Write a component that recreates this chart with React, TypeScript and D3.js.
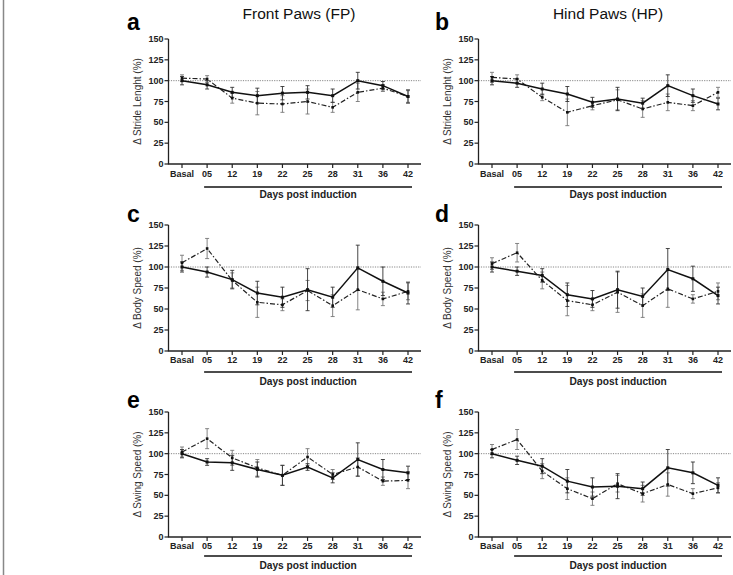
import React from 'react';
import * as d3 from 'd3';

// ---------- data ----------
const categories = ["Basal", "05", "12", "19", "22", "25", "28", "31", "36", "42"];
const yTicks = [0, 25, 50, 75, 100, 125, 150];
const columnTitles = ["Front Paws (FP)", "Hind Paws (HP)"];
const xAxisTitle = "Days post induction";

// a: Front paws, stride length
const aSolid = [100, 95, 86, 82, 85, 86, 82, 100, 94, 81];
const aSolidErr = [5, 5, 6, 9, 8, 8, 8, 10, 5, 8];
const aDashed = [103, 102, 79, 73, 72, 75, 68, 86, 91, 81];
const aDashedErr = [4, 4, 6, 14, 10, 15, 6, 11, 4, 7];

// b: Hind paws, stride length
const bSolid = [100, 97, 90, 84, 74, 78, 73, 94, 82, 72];
const bSolidErr = [5, 5, 7, 9, 6, 14, 6, 13, 8, 7];
const bDashed = [104, 102, 80, 62, 70, 77, 66, 74, 70, 86];
const bDashedErr = [6, 5, 4, 16, 5, 12, 10, 10, 6, 6];

// c: Front paws, body speed
const cSolid = [100, 94, 85, 69, 64, 73, 64, 99, 83, 69];
const cSolidErr = [6, 6, 11, 14, 12, 25, 12, 27, 17, 13];
const cDashed = [105, 122, 84, 58, 55, 72, 54, 73, 62, 71];
const cDashedErr = [9, 12, 9, 18, 7, 12, 13, 24, 8, 10];

// d: Hind paws, body speed
const dSolid = [100, 95, 90, 67, 62, 73, 65, 97, 86, 66];
const dSolidErr = [6, 5, 8, 14, 10, 22, 10, 25, 15, 10];
const dDashed = [104, 117, 84, 60, 55, 70, 54, 74, 62, 71];
const dDashedErr = [7, 11, 10, 18, 7, 24, 14, 22, 5, 10];

// e: Front paws, swing speed
const eSolid = [100, 90, 89, 81, 74, 84, 71, 93, 81, 77];
const eSolidErr = [5, 4, 9, 9, 12, 4, 6, 20, 12, 8];
const eDashed = [102, 118, 95, 83, 74, 96, 75, 84, 67, 68];
const eDashedErr = [6, 12, 9, 10, 12, 10, 6, 11, 5, 10];

// f: Hind paws, swing speed
const fSolid = [100, 92, 85, 67, 60, 61, 58, 83, 77, 62];
const fSolidErr = [5, 5, 9, 14, 11, 15, 8, 22, 13, 9];
const fDashed = [105, 117, 79, 58, 46, 64, 52, 63, 52, 59];
const fDashedErr = [6, 12, 9, 13, 8, 10, 10, 14, 6, 6];

const panelLetters = ["a", "b", "c", "d", "e", "f"];
const yLabels = ["Δ Stride Lenght (%)", "Δ Body Speed (%)", "Δ Swing Speed (%)"];

const panels = [
  { letter: panelLetters[0], col: 0, row: 0, solid: aSolid, solidErr: aSolidErr, dashed: aDashed, dashedErr: aDashedErr },
  { letter: panelLetters[1], col: 1, row: 0, solid: bSolid, solidErr: bSolidErr, dashed: bDashed, dashedErr: bDashedErr },
  { letter: panelLetters[2], col: 0, row: 1, solid: cSolid, solidErr: cSolidErr, dashed: cDashed, dashedErr: cDashedErr },
  { letter: panelLetters[3], col: 1, row: 1, solid: dSolid, solidErr: dSolidErr, dashed: dDashed, dashedErr: dDashedErr },
  { letter: panelLetters[4], col: 0, row: 2, solid: eSolid, solidErr: eSolidErr, dashed: eDashed, dashedErr: eDashedErr },
  { letter: panelLetters[5], col: 1, row: 2, solid: fSolid, solidErr: fSolidErr, dashed: fDashed, dashedErr: fDashedErr },
];

// ---------- layout ----------
const W = 733;
const H = 575;
const FONT = "'Liberation Sans', Arial, Helvetica, sans-serif";

const cols = [
  { axisX: 168.5, x0: 182, x1: 408, xEnd: 421, titleX: 141, letterX: 127, headX: 299 },
  { axisX: 478.5, x0: 492, x1: 718, xEnd: 731, titleX: 451, letterX: 435, headX: 608 },
];
const rows = [
  { top: 39, bottom: 164, letterY: 30, tickY: 177, lineY: 187, labelY: 198 },
  { top: 225, bottom: 351, letterY: 222, tickY: 363, lineY: 372, labelY: 385 },
  { top: 412, bottom: 537, letterY: 408, tickY: 549, lineY: 556, labelY: 569 },
];

function Panel({ p }: { p: any }) {
  const c = cols[p.col];
  const r = rows[p.row];
  const x = d3.scalePoint<string>().domain(categories).range([c.x0, c.x1]);
  const y = d3.scaleLinear().domain([0, 150]).range([r.bottom, r.top]);
  const line = d3
    .line<number>()
    .x((_, i) => x(categories[i]) as number)
    .y((v) => y(v));

  const errBars = (vals: number[], errs: number[], color: string, key: string) =>
    vals.map((v, i) => {
      const cx = x(categories[i]) as number;
      const yt = y(v + errs[i]);
      const yb = y(v - errs[i]);
      return (
        <g key={key + i} stroke={color} strokeWidth={0.9}>
          <line x1={cx} x2={cx} y1={yt} y2={yb} />
          <line x1={cx - 2} x2={cx + 2} y1={yt} y2={yt} />
          <line x1={cx - 2} x2={cx + 2} y1={yb} y2={yb} />
        </g>
      );
    });

  const markers = (vals: number[], key: string, s: number) =>
    vals.map((v, i) => (
      <rect
        key={key + i}
        x={(x(categories[i]) as number) - s / 2}
        y={y(v) - s / 2}
        width={s}
        height={s}
        fill="#111"
      />
    ));

  const midY = (r.top + r.bottom) / 2;
  const xs = categories.map((cat) => x(cat) as number);

  return (
    <g>
      {/* panel letter */}
      <text x={c.letterX} y={r.letterY} fontFamily={FONT} fontWeight="bold" fontSize={23} fill="#000">
        {p.letter}
      </text>
      {/* y title */}
      <text
        transform={`translate(${c.titleX},${midY}) rotate(-90)`}
        textAnchor="middle"
        fontFamily={FONT}
        fontSize={10}
        fill="#333"
      >
        {yLabels[p.row]}
      </text>
      {/* reference line at 100 */}
      <line x1={c.axisX} x2={c.xEnd} y1={y(100)} y2={y(100)} stroke="#888" strokeWidth={1} strokeDasharray="1.2,1.2" />
      {/* error bars */}
      {errBars(p.dashed, p.dashedErr, "#777", "de")}
      {errBars(p.solid, p.solidErr, "#333", "se")}
      {/* lines */}
      <path d={line(p.dashed) || ""} fill="none" stroke="#222" strokeWidth={1.2} strokeDasharray="5,2,1.5,2" />
      <path d={line(p.solid) || ""} fill="none" stroke="#111" strokeWidth={1.5} />
      {markers(p.dashed, "dm", 2.6)}
      {markers(p.solid, "sm", 3)}
      {/* y axis */}
      <line x1={c.axisX} x2={c.axisX} y1={r.top} y2={r.bottom} stroke="#222" strokeWidth={1.3} />
      {yTicks.map((t) => (
        <g key={"yt" + t}>
          <line x1={c.axisX - 4} x2={c.axisX} y1={y(t)} y2={y(t)} stroke="#222" strokeWidth={1.2} />
          <text
            x={c.axisX - 5}
            y={y(t) + 3}
            textAnchor="end"
            fontFamily={FONT}
            fontWeight="bold"
            fontSize={9}
            fill="#222"
          >
            {t}
          </text>
        </g>
      ))}
      {/* x axis */}
      <line x1={c.axisX - 0.6} x2={c.xEnd} y1={r.bottom} y2={r.bottom} stroke="#222" strokeWidth={1.3} />
      {categories.map((cat) => (
        <g key={"xt" + cat}>
          <line x1={x(cat)} x2={x(cat)} y1={r.bottom} y2={r.bottom + 4} stroke="#222" strokeWidth={1.2} />
          <text
            x={x(cat)}
            y={r.tickY}
            textAnchor="middle"
            fontFamily={FONT}
            fontWeight="bold"
            fontSize={9}
            fill="#222"
          >
            {cat}
          </text>
        </g>
      ))}
      {/* underline for days post induction */}
      <line x1={xs[1] - 3} x2={xs[xs.length - 1] + 4} y1={r.lineY} y2={r.lineY} stroke="#111" strokeWidth={1.3} />
      <text
        x={(xs[1] - 3 + xs[xs.length - 1] + 4) / 2}
        y={r.labelY}
        textAnchor="middle"
        fontFamily={FONT}
        fontWeight="bold"
        fontSize={10.2}
        fill="#222"
      >
        {xAxisTitle}
      </text>
    </g>
  );
}

export default function App() {
  return (
    <svg
      width={W}
      height={H}
      viewBox={`0 0 ${W} ${H}`}
      style={{ position: "absolute", left: 0, top: 0, background: "#fff" }}
    >
      <rect x={0} y={0} width={W} height={H} fill="#fff" />
      <line x1={3.5} x2={3.5} y1={0} y2={H} stroke="#888" strokeWidth={1.5} />
      {columnTitles.map((t, i) => (
        <text key={t} x={cols[i].headX} y={19} textAnchor="middle" fontFamily={FONT} fontSize={15.5} fill="#111">
          {t}
        </text>
      ))}
      {panels.map((p) => (
        <Panel key={p.letter} p={p} />
      ))}
    </svg>
  );
}
